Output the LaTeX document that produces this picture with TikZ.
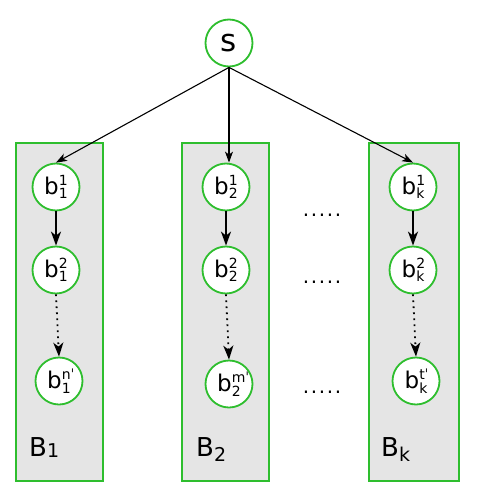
\documentclass[tikz,border=0pt]{standalone}
\usepackage{fontspec}
\setmainfont{DejaVu Sans}
\usetikzlibrary{arrows.meta}
\definecolor{grn}{RGB}{46,190,46}
\definecolor{boxgray}{RGB}{229,229,229}
\newcommand\smallf{\fontsize{14}{14}\selectfont}
\newcommand\bb[2]{b\makebox[0pt][l]{\raisebox{9pt}{\smallf #2}}\raisebox{-4.5pt}{\smallf #1}}
\newcommand\pr{ˈ}
\tikzset{
  vert/.style={draw=grn,line width=1.8pt,circle,fill=white,minimum size=47pt,inner sep=0pt,font=\fontsize{23}{23}\selectfont},
  group/.style={draw=grn,line width=1.3pt,fill=boxgray},
  toparrow/.style={line width=1.1pt,-{Stealth[length=11pt,width=8pt,inset=3pt]}},
  chain/.style={line width=1.8pt,-{Stealth[length=14pt,width=10pt,inset=4pt]}},
  dchain/.style={line width=1.8pt,dash pattern=on 1.8pt off 4.2pt,-{Stealth[length=14pt,width=10pt,inset=4pt]}},
  blabel/.style={font=\fontsize{26}{26}\selectfont,anchor=base west,inner sep=0pt},
  dots/.style={font=\fontsize{20}{20}\selectfont,inner sep=0pt}
}
\begin{document}
\begin{tikzpicture}[x=1pt,y=-1pt]
\useasboundingbox (0,0) rectangle (479,498);
\fill[white] (0,0) rectangle (479,498);
\draw[group] (16,143) rectangle (103,481);
\draw[group] (182,143) rectangle (269,481);
\draw[group] (369,143) rectangle (459,481);
\node[vert,font=\fontsize{31}{31}\selectfont] (s) at (229,43) {s};
\node[vert] (a1) at (56,187) {\bb{1}{1}};
\node[vert] (a2) at (56,270) {\bb{1}{2}};
\node[vert] (a3) at (59,381) {\bb{1}{n\pr}};
\node[vert] (c1) at (226,187) {\bb{2}{1}};
\node[vert] (c2) at (226,270) {\bb{2}{2}};
\node[vert] (c3) at (229,384) {\bb{2}{m\pr}};
\node[vert] (k1) at (413,187) {\bb{k}{1}};
\node[vert] (k2) at (413,270) {\bb{k}{2}};
\node[vert] (k3) at (416,381) {\bb{k}{t\pr}};
\draw[toparrow] (s.south) -- (a1.north);
\draw[toparrow] (s.south) -- (c1.north -| s.south);
\draw[toparrow] (s.south) -- (k1.north);
\draw[chain] (a1) -- (a2);
\draw[chain] (c1) -- (c2);
\draw[chain] (k1) -- (k2);
\draw[dchain] (a2.south) -- (a3.north);
\draw[dchain] (c2.south) -- (c3.north);
\draw[dchain] (k2.south) -- (k3.north);
\node[blabel] (B1) at (29,456) {B\raisebox{-1pt}{\fontsize{19}{19}\selectfont 1}};
\node[blabel] (B2) at (196,456) {B\raisebox{-5pt}{\fontsize{19}{19}\selectfont 2}};
\node[blabel] (Bk) at (381,456) {B\raisebox{-5pt}{\fontsize{19}{19}\selectfont k}};
\node[dots] (d1) at (322,215) {.\kern1.6pt.\kern1.6pt.\kern1.6pt.\kern1.6pt.};
\node[dots] (d2) at (322,282) {.\kern1.6pt.\kern1.6pt.\kern1.6pt.\kern1.6pt.};
\node[dots] (d3) at (322,392) {.\kern1.6pt.\kern1.6pt.\kern1.6pt.\kern1.6pt.};
\end{tikzpicture}
\end{document}
